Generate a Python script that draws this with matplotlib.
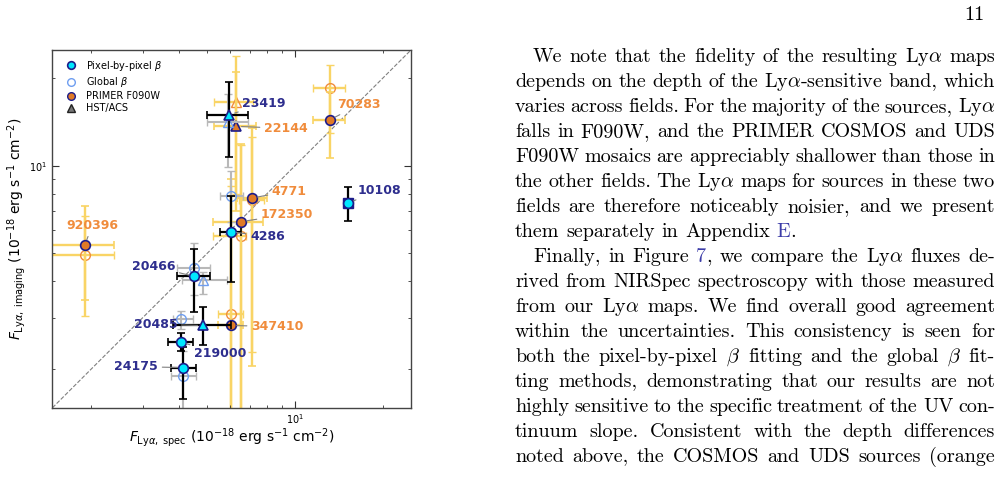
import re
import matplotlib
matplotlib.use("Agg")
import matplotlib.pyplot as plt
from matplotlib.lines import Line2D
from matplotlib.ticker import NullFormatter

# ---- data (10^-18 erg s^-1 cm^-2) ----
pix_names = ['23419', '4286', '20466', '20485', '219000', '24175', '10108']
pix_x = [5.95, 6.03, 4.51, 4.84, 4.06, 4.13, 15.25]
pix_xlo = [4.99, 5.52, 3.92, 3.81, 3.67, 3.74, 15.25]
pix_xhi = [6.91, 6.51, 5.10, 6.03, 4.47, 4.57, 15.25]
pix_y = [14.97, 5.93, 4.16, 2.82, 2.47, 2.02, 7.44]
pix_ylo = [10.74, 3.99, 3.13, 2.41, 2.30, 1.57, 6.44]
pix_yhi = [19.35, 7.89, 5.16, 3.26, 2.66, 2.38, 8.43]
pix_marker = ['^', 'o', 'o', '^', 'o', 'o', 'o']

glob_x = [5.90, 6.03, 4.51, 4.82, 4.06, 4.13]
glob_xlo = [4.99, 5.52, 3.92, 4.10, 3.80, 3.74]
glob_xhi = [6.91, 6.64, 5.10, 5.83, 4.45, 4.57]
glob_y = [14.17, 7.89, 4.45, 4.03, 2.97, 1.89]
glob_ylo = [9.92, 6.40, 3.60, 3.62, 2.75, 1.40]
glob_yhi = [17.6, 9.62, 5.41, 4.31, 3.17, 2.30]
glob_marker = ['^', 'o', 'o', '^', 'o', 'o']

prim_names = ['70283', '920396', '4771', '172350', '347410', '22144']
prim_x = [13.19, 1.90, 7.11, 6.52, 6.03, 6.27]
prim_xlo = [11.5, 1.25, 6.30, 5.24, 5.45, 5.28]
prim_xhi = [14.85, 2.39, 7.99, 7.78, 6.64, 7.35]
prim_y = [14.39, 5.34, 7.74, 6.42, 2.82, 13.66]
prim_ylo = [10.6, 3.44, 2.04, 1.2, 1.2, 7.0]
prim_yhi = [18.0, 7.25, 13.44, 11.84, 9.0, 20.94]
prim_marker = ['o', 'o', 'o', 'o', 'o', '^']

primg_x = [13.19, 1.90, 7.11, 6.52, 6.03, 6.27]
primg_xlo = [11.5, 1.25, 6.40, 5.24, 5.45, 5.28]
primg_xhi = [14.85, 2.39, 7.80, 6.80, 6.64, 7.17]
primg_y = [18.45, 4.93, 7.6, 5.72, 3.09, 16.52]
primg_ylo = [13.0, 3.04, 2.28, 1.2, 1.2, 8.0]
primg_yhi = [22.24, 6.73, 12.6, 11.8, 8.5, 23.88]

lim = [1.47, 25.0]

# label offsets in pixels (dx, dy, ha)
label_pos = {
    '23419': (13, 11, 'left'), '4286': (19, -5, 'left'), '20466': (-19, 10, 'right'),
    '20485': (-26, 1, 'right'), '219000': (13, -11, 'left'), '24175': (-25, 1, 'right'),
    '10108': (9, 13, 'left'), '70283': (7, 15, 'left'), '920396': (7, 19, 'center'),
    '4771': (20, 7, 'left'), '172350': (20, 7, 'left'), '347410': (20, -1, 'left'),
    '22144': (28, -2, 'left'),
}

CYAN = '#00e8ff'
NAVY = '#1c1c8a'
NAVY_TXT = '#2e2e8e'
ORANGE = '#e07a26'
ORANGE_TXT = '#f08c3c'
YELLOW = '#f9d465'
GREY = '#b8b8b8'
LIGHTBLUE = '#6f9ef0'

fig = plt.figure(figsize=(10.05, 4.78), dpi=100)
ax = fig.add_axes([0.0522, 0.147, 0.3567, 0.7483])
ax.set_xscale('log')
ax.set_yscale('log')
ax.set_xlim(lim)
ax.set_ylim(lim)
ax.plot(lim, lim, ls='--', color='gray', lw=0.8, zorder=0.5)

px2pt = 0.72

def bars(xs, xlo, xhi, ys, ylo, yhi, markers, ecol, lw, z, **mk):
    for i in range(len(xs)):
        xe = [[xs[i] - xlo[i]], [xhi[i] - xs[i]]]
        ye = [[ys[i] - ylo[i]], [yhi[i] - ys[i]]]
        ax.errorbar([xs[i]], [ys[i]], xerr=xe, yerr=ye, fmt=markers[i],
                    ecolor=ecol, elinewidth=lw, capsize=3.2, capthick=lw,
                    zorder=z, **mk)

bars(primg_x, primg_xlo, primg_xhi, primg_y, primg_ylo, primg_yhi, prim_marker,
     YELLOW, 1.7, 1, ms=7, mfc='none', mec=ORANGE_TXT, mew=1.0)
bars(prim_x, prim_xlo, prim_xhi, prim_y, prim_ylo, prim_yhi, prim_marker,
     YELLOW, 1.7, 1.5, ms=7, mfc=ORANGE, mec=NAVY, mew=1.2)
bars(glob_x, glob_xlo, glob_xhi, glob_y, glob_ylo, glob_yhi, glob_marker,
     GREY, 1.5, 2, ms=7, mfc='none', mec=LIGHTBLUE, mew=1.0)
# 10108 square behind
ax.plot([pix_x[-1]], [pix_y[-1]], 's', ms=7.2, mfc=NAVY, mec=NAVY, zorder=2.5)
bars(pix_x, pix_xlo, pix_xhi, pix_y, pix_ylo, pix_yhi, pix_marker,
     'black', 1.6, 3, ms=7, mfc=CYAN, mec=NAVY, mew=1.2)

def label(name, x, y, color):
    dx, dy, ha = label_pos[name]
    ax.annotate(name, xy=(x, y), xytext=(dx * px2pt, dy * px2pt),
                textcoords='offset points', ha=ha, va='center',
                fontsize=9, fontweight='bold', color=color, zorder=5,
                arrowprops=dict(arrowstyle='-', color='gray', lw=0.8,
                                shrinkA=1, shrinkB=4))

for i, n in enumerate(pix_names):
    label(n, pix_x[i], pix_y[i], NAVY_TXT)
for i, n in enumerate(prim_names):
    label(n, prim_x[i], prim_y[i], ORANGE_TXT)

ax.tick_params(which='both', direction='in', top=True, right=True, labelsize=7,
               color='#333333')
ax.tick_params(which='major', length=5)
ax.tick_params(which='minor', length=2.5)
ax.xaxis.set_minor_formatter(NullFormatter())
ax.yaxis.set_minor_formatter(NullFormatter())
for s in ax.spines.values():
    s.set_color('#444444')
    s.set_linewidth(1.0)

ax.set_xlabel(r'$F_{\mathrm{Ly}\alpha,\ \mathrm{spec}}$ ($10^{-18}$ erg s$^{-1}$ cm$^{-2}$)',
              fontsize=10, labelpad=0)
ax.set_ylabel(r'$F_{\mathrm{Ly}\alpha,\ \mathrm{imaging}}$ ($10^{-18}$ erg s$^{-1}$ cm$^{-2}$)',
              fontsize=10, labelpad=1)

handles = [
    Line2D([], [], ls='none', marker='o', ms=5.5, mfc=CYAN, mec=NAVY, mew=1.2),
    Line2D([], [], ls='none', marker='o', ms=5.5, mfc='none', mec=LIGHTBLUE, mew=1.0),
    Line2D([], [], ls='none', marker='o', ms=5.5, mfc=ORANGE, mec=NAVY, mew=1.0),
    Line2D([], [], ls='none', marker='^', ms=5.5, mfc='#777777', mec='#222222', mew=1.0),
]
ax.legend(handles, [r'Pixel-by-pixel $\beta$', r'Global $\beta$', 'PRIMER F090W', 'HST/ACS'],
          loc='upper left', bbox_to_anchor=(0.015, 1.0), frameon=False, fontsize=7,
          handletextpad=1.0, labelspacing=0.22, borderaxespad=0.6, borderpad=0.3,
          handlelength=1.0)

# ---- page text on the right ----
W, H = 1005, 478
BLUE_LINK = '#3c3ca8'
text_lines = [
    (533, "We note that the fidelity of the resulting Ly$\\alpha$ maps", True),
    (515, "depends on the depth of the Ly$\\alpha$-sensitive band, which", True),
    (515, "varies across fields. For the majority of the sources, Ly$\\alpha$", True),
    (515, "falls in F090W, and the PRIMER COSMOS and UDS", True),
    (515, "F090W mosaics are appreciably shallower than those in", True),
    (515, "the other fields. The Ly$\\alpha$ maps for sources in these two", True),
    (515, "fields are therefore noticeably noisier, and we present", True),
    (515, "them separately in Appendix <E>.", False),
    (533, "Finally, in Figure <7>, we compare the Ly$\\alpha$ fluxes de-", True),
    (515, "rived from NIRSpec spectroscopy with those measured", True),
    (515, "from our Ly$\\alpha$ maps.  We find overall good agreement", True),
    (515, "within the uncertainties.  This consistency is seen for", True),
    (515, "both the pixel-by-pixel $\\beta$ fitting and the global $\\beta$ fit-", True),
    (515, "ting methods, demonstrating that our results are not", True),
    (515, "highly sensitive to the specific treatment of the UV con-", True),
    (515, "tinuum slope.  Consistent with the depth differences", True),
    (515, "noted above, the COSMOS and UDS sources (orange", True),
]
line_top = 57
line_step = 25
right_edge = 995
fs = 14.5
renderer = fig.canvas.get_renderer()

def make_word(word):
    segs = []
    for part in re.split(r'(<[^>]*>)', word):
        if not part:
            continue
        if part.startswith('<'):
            segs.append((part[1:-1], BLUE_LINK))
        else:
            segs.append((part, 'black'))
    return segs

def put(s, x, y, color):
    t = fig.text(x / W, 1 - y / H, s, fontsize=fs, family='cmr10', color=color,
                 math_fontfamily='cm', ha='left', va='baseline')
    return t, t.get_window_extent(renderer).width

space_w = fs * 100 / 72 * 0.333
for k, (x0, line, justify) in enumerate(text_lines):
    yb = line_top + k * line_step + 5
    words = [make_word(w) for w in line.split()]
    objs = []
    widths = []
    for segs in words:
        ws = []
        for s, c in segs:
            t, w = put(s, 0, yb, c)
            ws.append((t, w))
        objs.append(ws)
        widths.append(sum(w for _, w in ws))
    if justify and len(words) > 1:
        gap = (right_edge - x0 - sum(widths)) / (len(words) - 1)
    else:
        gap = space_w
    x = x0
    for ws, wtot in zip(objs, widths):
        xx = x
        for t, w in ws:
            t.set_x(xx / W)
            xx += w
        x += wtot + gap

fig.text(985 / W, 1 - 20 / H, '11', fontsize=fs, family='cmr10', ha='right', va='baseline')

fig.savefig('out.png', dpi=100)
